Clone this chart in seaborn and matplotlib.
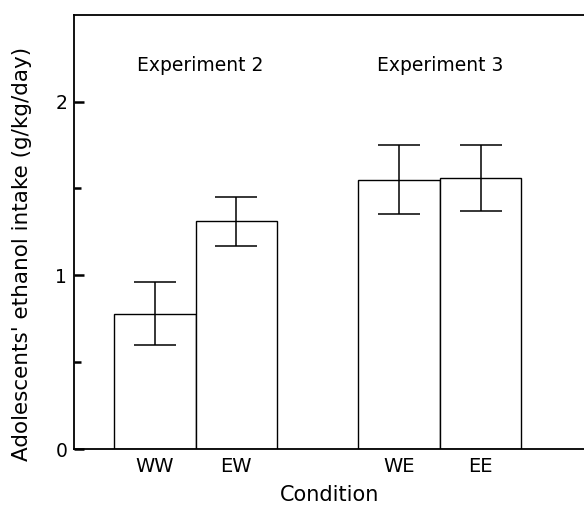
import numpy as np
import pandas as pd
import matplotlib
matplotlib.use('Agg')
import matplotlib.pyplot as plt
from matplotlib.ticker import MultipleLocator, FixedLocator
import seaborn as sns

# mean intake per condition, with SEM
conditions = ['WW', 'EW', 'WE', 'EE']
intake = [0.78, 1.31, 1.55, 1.56]
sem = [0.18, 0.14, 0.20, 0.19]
experiments = ['Experiment 2', 'Experiment 3']

# empty slot between the two experiments
order = ['WW', 'EW', '', 'WE', 'EE']

df = pd.DataFrame({'condition': conditions, 'intake': intake, 'sem': sem})

sns.set_style('ticks')
plt.rcParams['font.family'] = ['DejaVu Sans']
plt.rcParams['text.color'] = 'black'
plt.rcParams['axes.labelcolor'] = 'black'
plt.rcParams['xtick.color'] = 'black'
plt.rcParams['ytick.color'] = 'black'

fig = plt.figure(figsize=(5.84, 5.17), dpi=100)
ax = fig.add_axes([0.127, 0.1315, 0.873, 0.8401])

sns.barplot(data=df, x='condition', y='intake', order=order, color='white',
            edgecolor='black', linewidth=1.0, width=1.0, errorbar=None,
            saturation=1, ax=ax)

# error bars on the bar centres
bars = [p for p in ax.patches if p.get_height() > 0]
xs = [b.get_x() + b.get_width() / 2 for b in bars]
hs = [b.get_height() for b in bars]
yerr = [df.set_index('intake').loc[h, 'sem'] for h in hs]
ax.errorbar(xs, hs, yerr=yerr, fmt='none', ecolor='black', elinewidth=1.1,
            capsize=15, capthick=1.1)

ax.set_xlim(-0.99, 5.27)
ax.set_ylim(0, 2.5)
ax.yaxis.set_major_locator(MultipleLocator(1))
ax.yaxis.set_minor_locator(FixedLocator([0.5, 1.5]))
ax.tick_params(axis='y', which='major', direction='in', length=7, width=1.8,
               pad=5, labelsize=13.5)
ax.tick_params(axis='y', which='minor', direction='in', length=5, width=1.8)
ax.tick_params(axis='x', length=0, pad=6, labelsize=14)

for side in ['left', 'bottom', 'top']:
    ax.spines[side].set_linewidth(1.3)
    ax.spines[side].set_color('black')
ax.spines['right'].set_visible(False)

ax.set_xlabel('Condition', fontsize=15, labelpad=6)
ax.set_ylabel("Adolescents' ethanol intake (g/kg/day)", fontsize=15.5)
ax.yaxis.set_label_coords(-0.082, 0.449)

ax.text(0.56, 2.21, experiments[0], ha='center', va='center', fontsize=13.5)
ax.text(3.5, 2.21, experiments[1], ha='center', va='center', fontsize=13.5)

fig.savefig('out.png', dpi=100)
